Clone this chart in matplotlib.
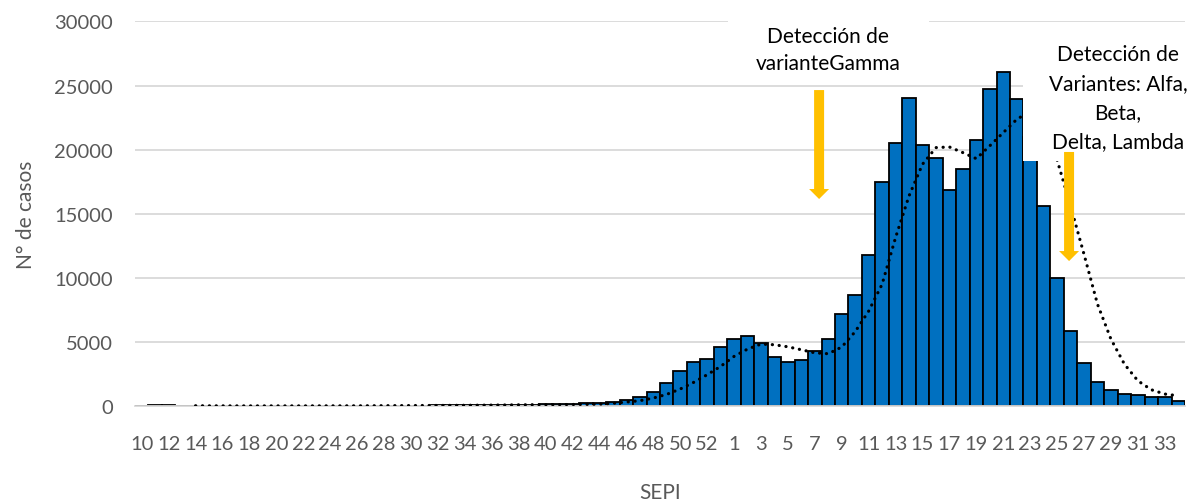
import matplotlib
matplotlib.use("Agg")
import matplotlib.pyplot as plt
from matplotlib.patches import Rectangle
import numpy as np

# ---- data ----
weeks_2020 = list(range(10, 54))
weeks_2021 = list(range(1, 35))
week_labels = [str(w) for w in weeks_2020 + weeks_2021]

cases_2020 = [0, 90, 90, 20, 15, 10, 10, 10, 10, 10, 10, 10, 10, 10, 15, 15,
              15, 20, 25, 30, 35, 40, 45, 50, 55, 60, 70, 80, 90, 110, 130,
              150, 170, 220, 220, 350, 480, 670, 1070, 1790, 2700, 3400, 3700, 4600]
cases_2021 = [5220, 5480, 4930, 3840, 3450, 3580, 4310, 5200, 7150, 8670,
              11800, 17480, 20520, 24000, 20360, 19320, 16860, 18520, 20730,
              24750, 26050, 23970, 21000, 15610, 9970, 5820, 3350, 1900, 1270,
              935, 857, 727, 727, 416]
cases = cases_2020 + cases_2021

trend_2020 = [None, None, None, None,
              20, 15, 12, 10, 10, 10, 10, 10, 10, 12, 13, 14, 16, 20, 25, 30,
              35, 40, 45, 50, 55, 62, 70, 80, 92, 100, 105,
              110, 120, 130, 150, 210, 310, 415, 620, 910, 1325, 1845, 2440, 3090]
trend_2021 = [3870, 4440, 4830, 4780, 4620, 4390, 4150, 4080, 4600, 5800,
              7400, 9500, 13140, 16390, 18860, 20160, 20210, 19770, 19300,
              20300, 21330, 22360, 23000, 22000, 19200, 15610, 11840, 7950,
              5220, 3270, 1970, 1270, 935, 800]
trend = [np.nan if v is None else v for v in trend_2020 + trend_2021]

yticks = [0, 5000, 10000, 15000, 20000, 25000, 30000]

note_gamma = "Detección de\nvarianteGamma"
note_others = "Detección de\nVariantes: Alfa,\nBeta,\nDelta, Lambda"

# ---- figure ----
FONT = "Lato"
plt.rcParams['font.family'] = [FONT, 'DejaVu Sans']
gray = '#595959'
fig = plt.figure(figsize=(11.99, 5.02), dpi=100)
ax = fig.add_axes([0.1126, 0.1892, 0.8757, 0.766])

x = np.arange(len(cases))
ax.bar(x, cases, width=1.0, color='#0070C0', edgecolor='black',
       linewidth=1.3, zorder=2)
ax.plot(x, trend, color='black', linewidth=2.3, linestyle=(0, (0.05, 2.1)),
        dash_capstyle='round', zorder=3)

ax.set_xlim(-0.5, len(cases) - 0.5)
ax.set_ylim(0, 30000)
ax.set_yticks(yticks)
ax.set_yticklabels([str(v) for v in yticks])
ax.set_xticks(x[::2])
ax.set_xticklabels(week_labels[::2])
ax.tick_params(axis='both', length=0, labelsize=14.5, labelcolor=gray)
ax.tick_params(axis='x', pad=21)
ax.tick_params(axis='y', pad=16)
ax.yaxis.grid(True, color='#D9D9D9', linewidth=1.3, zorder=0)
ax.set_axisbelow(True)
for s in ['top', 'right', 'left']:
    ax.spines[s].set_visible(False)
ax.spines['bottom'].set_color('#D9D9D9')
ax.spines['bottom'].set_linewidth(1.3)

ax.set_xlabel('SEPI', fontsize=15, color=gray, va='baseline')
ax.xaxis.set_label_coords(0.5, -0.240)
ax.set_ylabel('N° de casos', fontsize=15, color=gray)
ax.yaxis.set_label_coords(-0.094, 0.5)

# white label boxes
ax.add_patch(Rectangle((43.56, 25500), 58.49 - 43.56, 6000, facecolor='white',
                       edgecolor='none', zorder=4, clip_on=False))
ax.add_patch(Rectangle((65.45, 19115), 15, 9900, facecolor='white',
                       edgecolor='none', zorder=4, clip_on=False))

ax.text(50.99, 27800, note_gamma, ha='center', va='center', fontsize=15,
        color='black', linespacing=1.45, zorder=5)
ax.text(72.53, 24070, note_others, ha='center', va='center', fontsize=15,
        color='black', linespacing=1.56, zorder=5, clip_on=False)

arrow_style = 'simple,head_length=0.36,head_width=0.72,tail_width=0.36'
for xa, y0, y1 in [(50.32, 24650, 16150), (68.89, 19820, 11310)]:
    ax.annotate('', xy=(xa, y1), xytext=(xa, y0),
                arrowprops=dict(arrowstyle=arrow_style, color='#FFC000',
                                mutation_scale=20, shrinkA=0, shrinkB=0,
                                linewidth=0),
                zorder=6)

fig.savefig('out.png', dpi=100)
